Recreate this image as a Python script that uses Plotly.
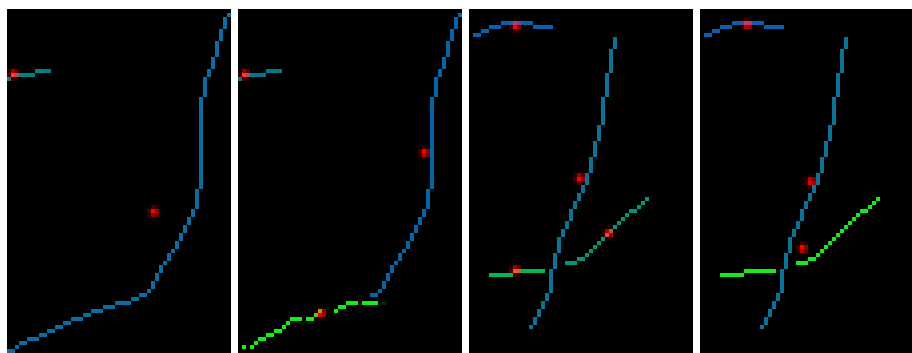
import numpy as np
import plotly.graph_objects as go

N_ROWS = 86
N_COLS = 56

# ---- pixel runs: (row_start, row_end, col_start, col_end), inclusive ----
CURVE_LONG = [
    (1, 1, 55, 55), (2, 4, 54, 54), (5, 7, 53, 53), (8, 11, 52, 52), (12, 14, 51, 51),
    (15, 16, 50, 50), (17, 21, 49, 49), (22, 44, 48, 48), (45, 49, 47, 47), (50, 51, 46, 46),
    (52, 53, 45, 45), (54, 55, 44, 44), (56, 57, 43, 43), (58, 59, 42, 42), (60, 60, 41, 41),
    (61, 62, 40, 40), (63, 63, 39, 39), (64, 65, 38, 38), (66, 67, 37, 37), (68, 69, 36, 36),
    (70, 70, 35, 35), (71, 71, 33, 34), (72, 72, 31, 32), (73, 73, 27, 30), (74, 74, 24, 26),
    (75, 75, 21, 23), (76, 76, 19, 20), (77, 77, 16, 18), (78, 78, 14, 15), (79, 79, 12, 13),
    (80, 80, 10, 11), (81, 81, 8, 9), (82, 82, 5, 7), (83, 83, 3, 4), (84, 84, 2, 2),
    (85, 85, 0, 1),
]
CURVE_CUT = [
    (1, 1, 55, 55), (2, 4, 54, 54), (5, 7, 53, 53), (8, 11, 52, 52), (12, 14, 51, 51),
    (15, 16, 50, 50), (17, 21, 49, 49), (22, 44, 48, 48), (45, 49, 47, 47), (50, 51, 46, 46),
    (52, 53, 45, 45), (54, 55, 44, 44), (56, 57, 43, 43), (58, 59, 42, 42), (60, 60, 41, 41),
    (61, 62, 40, 40), (63, 63, 39, 39), (64, 65, 38, 38), (66, 67, 37, 37), (68, 69, 36, 36),
    (70, 70, 35, 35), (71, 71, 33, 34),
]
TEAL_SEG = [(17, 17, 0, 0), (16, 16, 1, 6), (15, 15, 7, 10)]
GREEN_STEPS = [
    (84, 84, 1, 1), (84, 84, 3, 3), (83, 83, 4, 4), (82, 82, 5, 6), (81, 81, 7, 8),
    (80, 80, 9, 10), (79, 79, 11, 11), (78, 78, 12, 12), (77, 77, 13, 15), (77, 77, 17, 18),
    (76, 76, 19, 19), (75, 75, 20, 20), (75, 75, 24, 24), (74, 74, 25, 26), (73, 73, 27, 29),
    (73, 73, 31, 34),
]
GREEN_FAINT = [(73, 73, 36, 36)]
ARC_TOP = [(6, 6, 1, 2), (5, 5, 3, 4), (4, 4, 5, 7), (4, 4, 16, 20), (3, 3, 8, 15)]
LINE_STEEP = [
    (7, 9, 36, 36), (10, 15, 35, 35), (16, 21, 34, 34), (22, 28, 33, 33), (29, 32, 32, 32),
    (33, 36, 31, 31), (37, 40, 30, 30), (41, 43, 29, 29), (44, 45, 28, 28), (46, 47, 27, 27),
    (48, 49, 26, 26), (50, 52, 25, 25), (53, 54, 24, 24), (55, 56, 23, 23), (57, 60, 22, 22),
    (61, 64, 21, 21), (65, 70, 20, 20), (71, 72, 19, 19), (73, 74, 18, 18), (75, 76, 17, 17),
    (77, 78, 16, 16), (79, 79, 15, 15),
]
GREEN_FLAT = [(66, 66, 5, 10), (65, 65, 11, 18)]
DIAG_RISE = [
    (63, 63, 24, 26), (62, 62, 27, 28), (61, 61, 29, 29), (60, 60, 30, 30), (59, 59, 31, 31),
    (58, 58, 32, 32), (57, 57, 33, 33), (56, 56, 34, 34), (55, 55, 35, 35), (54, 54, 36, 36),
    (53, 53, 37, 37), (52, 52, 38, 38), (51, 51, 39, 39), (50, 50, 40, 41), (49, 49, 42, 42),
    (48, 48, 43, 43), (47, 47, 44, 44),
]

# red spot centres (col, row)
SPOTS_P1 = [(1.2, 15.8), (36.2, 50.2)]
SPOTS_P2 = [(1.3, 15.8), (46.2, 35.4), (20.3, 75.6)]
SPOTS_P3 = [(11.2, 3.7), (27.2, 41.8), (34.4, 55.6), (11.2, 64.8)]
SPOTS_P4 = [(11.4, 3.4), (27.3, 42.6), (25.2, 59.3)]

# colours
C_CURVE1 = (12, 110, 160)
C_CURVE2 = (5, 100, 165)
C_TEAL1 = (0, 128, 128)
C_TEAL2 = (0, 120, 140)
C_LIME = (20, 240, 20)
C_FAINT = (0, 40, 0)
C_ARC = (10, 95, 175)
C_STEEP = (10, 115, 150)
C_GREEN3 = (0, 185, 80)
C_DIAG3 = (0, 150, 120)
C_LIME4 = (20, 235, 30)

PANEL_COLS = [56, 56, 56, 53]
PANEL_X = [(7, 231), (238, 462), (469, 693), (700, 912)]
FIG_W, FIG_H = 912, 353
TOP = 9


def paint(img, runs, color):
    for r0, r1, c0, c1 in runs:
        img[r0:r1 + 1, c0:c1 + 1, :] = color


def spots(img, centres, sigma=0.72, gain=1.15):
    rr, cc = np.mgrid[0:N_ROWS, 0:N_COLS]
    for cx, cy in centres:
        d2 = (cc - cx) ** 2 + (rr - cy) ** 2
        a = np.minimum(1.0, gain * np.exp(-d2 / (2 * sigma ** 2)))
        a[d2 > 6] = 0
        img[..., 0] = np.minimum(255, img[..., 0] * (1 - 0.3 * a) + 255 * a)
        img[..., 1] = img[..., 1] * (1 - 0.55 * a)
        img[..., 2] = img[..., 2] * (1 - 0.55 * a)


def blank():
    return np.zeros((N_ROWS, N_COLS, 3), dtype=float)


p1 = blank()
paint(p1, CURVE_LONG, C_CURVE1)
paint(p1, TEAL_SEG, C_TEAL1)
spots(p1, SPOTS_P1)

p2 = blank()
paint(p2, CURVE_CUT, C_CURVE2)
paint(p2, TEAL_SEG, C_TEAL2)
paint(p2, GREEN_STEPS, C_LIME)
paint(p2, GREEN_FAINT, C_FAINT)
spots(p2, SPOTS_P2)

p3 = blank()
paint(p3, ARC_TOP, C_ARC)
paint(p3, LINE_STEEP, C_STEEP)
paint(p3, GREEN_FLAT, C_GREEN3)
paint(p3, DIAG_RISE, C_DIAG3)
spots(p3, SPOTS_P3)

p4 = blank()
paint(p4, ARC_TOP, C_ARC)
paint(p4, LINE_STEEP, C_STEEP)
paint(p4, GREEN_FLAT, C_LIME4)
paint(p4, DIAG_RISE, C_LIME4)
spots(p4, SPOTS_P4)

panels = [p1, p2, p3, p4]

fig = go.Figure()
layout = dict(
    width=FIG_W, height=FIG_H,
    margin=dict(l=0, r=0, t=0, b=0, pad=0),
    paper_bgcolor="white", plot_bgcolor="black",
    showlegend=False,
)
for i, img in enumerate(panels):
    sfx = "" if i == 0 else str(i + 1)
    fig.add_trace(go.Image(z=np.clip(img, 0, 255).astype(np.uint8),
                           xaxis="x" + sfx, yaxis="y" + sfx, hoverinfo="skip"))
    x0, x1 = PANEL_X[i]
    layout["xaxis" + sfx] = dict(domain=[x0 / FIG_W, x1 / FIG_W], range=[-0.5, PANEL_COLS[i] - 0.5],
                                 visible=False, showgrid=False, zeroline=False, anchor="y" + sfx)
    layout["yaxis" + sfx] = dict(domain=[0, (FIG_H - TOP) / FIG_H], range=[N_ROWS - 0.5, -0.5],
                                 visible=False, showgrid=False, zeroline=False, anchor="x" + sfx)
fig.update_layout(**layout)

fig.write_html("out.html", config={"displayModeBar": False},
               post_script="document.body.style.margin='0';")
